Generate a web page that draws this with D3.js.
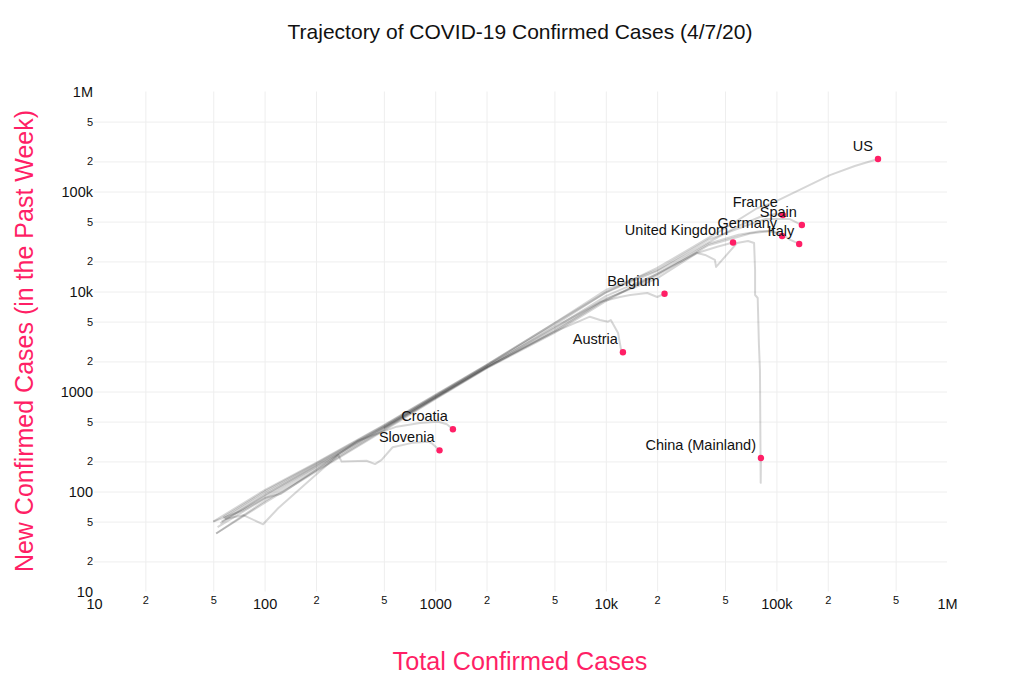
<!DOCTYPE html>
<html>
<head>
    <meta charset="utf-8">
    <title>Trajectory of COVID-19 Confirmed Cases</title>
    <script src="https://cdn.jsdelivr.net/npm/d3@7/dist/d3.min.js"></script>
</head>
<body style="margin:0;background:#fff;">
<style type="text/css">
    text {font-family: "Liberation Sans", Arial, sans-serif;}
    .grid line {stroke: #eeeeee; stroke-width: 1;}
    .grid path {display: none;}
    .labels path, .labels line {display: none;}
</style>
<div id="container"></div>

<script type="text/javascript">
    const countries = ['US', 'France', 'Spain', 'Germany', 'Italy', 'United Kingdom', 'Belgium', 'Austria', 'China (Mainland)', 'Croatia', 'Slovenia'];

    // total cases / new cases in past week
    const usTotal = [57, 100, 200, 500, 1000, 2000, 5000, 10000, 20000, 50000, 77000, 100000, 206000, 288000, 394000];
    const usNew = [55, 100, 190, 455, 915, 1840, 4800, 9800, 17200, 43000, 68000, 80000, 146000, 180000, 211000];

    const franceTotal = [58, 100, 200, 500, 1000, 2000, 5000, 10000, 20000, 40000, 61200, 80000, 98000, 109000];
    const franceNew = [54, 96, 185, 445, 900, 1820, 4600, 9800, 16000, 31000, 46000, 55600, 59600, 58200];

    const spainTotal = [50, 100, 200, 500, 1000, 2000, 5000, 10000, 20000, 40000, 65500, 85800, 120000, 141000];
    const spainNew = [50, 103, 193, 462, 923, 1850, 4840, 10350, 16400, 33000, 45200, 53000, 53000, 46200];

    const germanyTotal = [52, 100, 200, 500, 1000, 2000, 5000, 10000, 20000, 40000, 70000, 92000, 108000];
    const germanyNew = [38, 80, 162, 415, 855, 1720, 4000, 8300, 14500, 29000, 38000, 40300, 35900];

    const italyTotal = [52, 100, 200, 500, 1000, 2000, 5000, 10000, 20000, 40000, 60000, 80000, 94000, 108000, 120000, 136000];
    const italyNew = [38, 77, 158, 405, 840, 1700, 3850, 8000, 15000, 30000, 37000, 40000, 40300, 37500, 33000, 29900];

    const ukTotal = [56, 100, 200, 500, 1000, 2000, 5000, 10000, 20000, 34300, 45000, 55700];
    const ukNew = [50, 90, 176, 435, 880, 1780, 4300, 9000, 15000, 24300, 28000, 30900];

    const belgiumTotal = [55, 100, 200, 500, 1000, 2000, 5000, 9250, 12100, 13900, 17500, 20000, 22100];
    const belgiumNew = [48, 92, 180, 440, 890, 1760, 4400, 7850, 8810, 9230, 9660, 8810, 9500];

    const austriaTotal = [53, 100, 200, 500, 1000, 2000, 5000, 8070, 9250, 10300, 10700, 11800, 12300, 12600];
    const austriaNew = [44, 85, 170, 425, 870, 1740, 3950, 5600, 5190, 4990, 5190, 3850, 2600, 2470];

    const chinaTotal = [500, 1000, 2000, 5000, 10000, 20000, 34300, 38200, 43600, 44300, 58700, 68200, 74000, 75000, 75000, 77700, 79000, 80100, 80900, 81200];
    const chinaNew = [430, 860, 1730, 4100, 8500, 13500, 24300, 23200, 20700, 17600, 30500, 32000, 30500, 16400, 9230, 8610, 2920, 1640, 122, 216];

    const croatiaTotal = [50, 75, 100, 125, 155, 200, 350, 594, 815, 1040, 1170, 1270];
    const croatiaNew = [50, 65, 86, 95, 122, 164, 320, 445, 484, 499, 470, 419];

    const sloveniaTotal = [58.6, 75, 98, 120, 270, 283, 396, 444, 485, 563, 745, 912, 955, 1060];
    const sloveniaNew = [53, 58, 47, 68, 232, 199, 203, 188, 207, 277, 308, 315, 303, 258];

    const totals = [usTotal, franceTotal, spainTotal, germanyTotal, italyTotal, ukTotal, belgiumTotal, austriaTotal, chinaTotal, croatiaTotal, sloveniaTotal];
    const news = [usNew, franceNew, spainNew, germanyNew, italyNew, ukNew, belgiumNew, austriaNew, chinaNew, croatiaNew, sloveniaNew];

    const tickValues = [10, 20, 50, 100, 200, 500, 1000, 2000, 5000, 10000, 20000, 50000, 100000, 200000, 500000, 1000000];
    const tickLabels = ['10', '2', '5', '100', '2', '5', '1000', '2', '5', '10k', '2', '5', '100k', '2', '5', '1M'];

    const w = 1024;
    const h = 688;
    const margin = {top: 91.5, left: 94, right: 77, bottom: 96.5};
    const iw = w - margin.left - margin.right;
    const ih = h - margin.top - margin.bottom;
    const pink = '#ff1f66';

    const svg = d3.select('div#container')
        .append('svg')
        .attr('width', w)
        .attr('height', h)
        .style('display', 'block');

    const main = svg.append('g')
        .attr('transform', `translate(${margin.left}, ${margin.top})`);

    const x = d3.scaleLog().domain([10, 1000000]).range([0, iw]);
    const y = d3.scaleLog().domain([10, 1000000]).range([ih, 0]);

    // no grid line on the two ends of the range
    const gridValues = tickValues.slice(1, -1);

    main.append('g')
        .attr('class', 'grid')
        .attr('transform', `translate(0, ${ih})`)
        .call(d3.axisBottom(x).tickValues(gridValues).tickSize(-ih).tickFormat(''));

    main.append('g')
        .attr('class', 'grid')
        .call(d3.axisLeft(y).tickValues(gridValues).tickSize(-iw).tickFormat(''));

    const isMinor = (d, i) => tickLabels[i].length == 1;

    const xAxis = main.append('g')
        .attr('class', 'labels')
        .attr('transform', `translate(0, ${ih})`)
        .call(d3.axisBottom(x).tickValues(tickValues).tickSize(0).tickPadding(5).tickFormat((d, i) => tickLabels[i]));
    xAxis.selectAll('text')
        .attr('fill', '#111')
        .attr('y', (d, i) => isMinor(d, i) ? 5 : 7)
        .style('font-size', (d, i) => isMinor(d, i) ? '11px' : '14.5px')
        .style('font-family', '"Liberation Sans", Arial, sans-serif');

    const yAxis = main.append('g')
        .attr('class', 'labels')
        .call(d3.axisLeft(y).tickValues(tickValues).tickSize(0).tickPadding(1).tickFormat((d, i) => tickLabels[i]));
    yAxis.selectAll('text')
        .attr('fill', '#111')
        .style('font-size', (d, i) => isMinor(d, i) ? '11px' : '14.5px')
        .style('font-family', '"Liberation Sans", Arial, sans-serif');

    const line = d3.line()
        .x(d => x(d[0]))
        .y(d => y(d[1]));

    const rows = countries.map((name, i) => ({
        name: name,
        points: d3.zip(totals[i], news[i]),
        last: [totals[i][totals[i].length - 1], news[i][news[i].length - 1]],
    }));

    main.selectAll('path.trace')
        .data(rows)
        .enter()
        .append('path')
        .attr('class', 'trace')
        .attr('d', d => line(d.points))
        .style('fill', 'none')
        .style('stroke', '#000')
        .style('stroke-opacity', 0.16)
        .style('stroke-width', 2)
        .style('stroke-linejoin', 'round');

    main.selectAll('circle')
        .data(rows)
        .enter()
        .append('circle')
        .attr('cx', d => x(d.last[0]))
        .attr('cy', d => y(d.last[1]))
        .attr('r', 3.2)
        .style('fill', pink);

    main.selectAll('text.country')
        .data(rows)
        .enter()
        .append('text')
        .attr('class', 'country')
        .attr('x', d => x(d.last[0]) - 5)
        .attr('y', d => y(d.last[1]) - 8)
        .attr('text-anchor', 'end')
        .style('font-size', '14.5px')
        .style('fill', '#111')
        .text(d => d.name);

    svg.append('text')
        .attr('x', 520)
        .attr('y', 39)
        .attr('text-anchor', 'middle')
        .style('font-size', '21px')
        .style('fill', '#111')
        .text('Trajectory of COVID-19 Confirmed Cases (4/7/20)');

    svg.append('text')
        .attr('x', 520)
        .attr('y', 670)
        .attr('text-anchor', 'middle')
        .style('font-size', '25.2px')
        .style('fill', pink)
        .text('Total Confirmed Cases');

    svg.append('text')
        .attr('transform', 'translate(33, 341) rotate(-90)')
        .attr('text-anchor', 'middle')
        .style('font-size', '25px')
        .style('fill', pink)
        .text('New Confirmed Cases (in the Past Week)');
</script>
</body>
</html>
